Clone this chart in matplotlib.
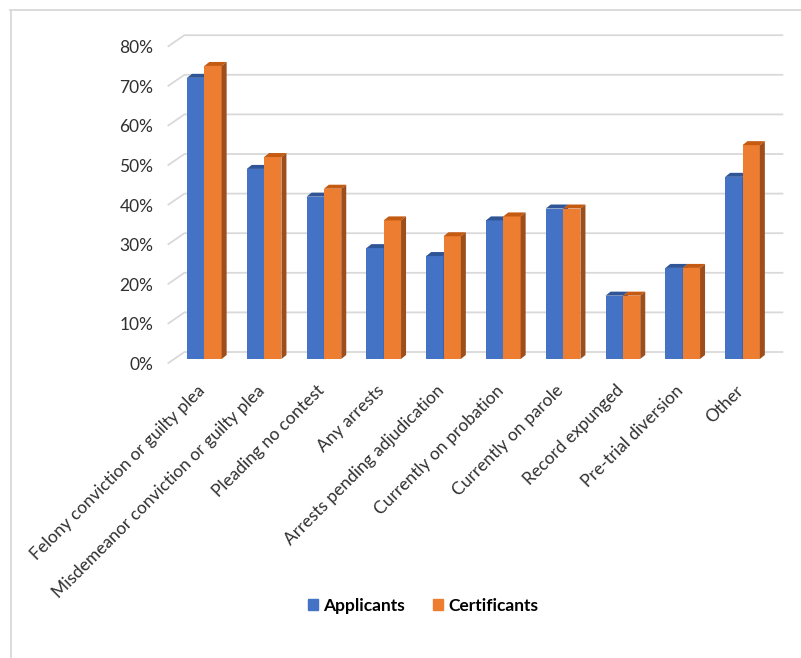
import matplotlib
matplotlib.use("Agg")
import matplotlib.pyplot as plt
import matplotlib.transforms as mtransforms
from matplotlib.patches import Polygon, Patch
from matplotlib.lines import Line2D

# --- data ---
categories = [
    "Felony conviction or guilty plea",
    "Misdemeanor conviction or guilty plea",
    "Pleading no contest",
    "Any arrests",
    "Arrests pending adjudication",
    "Currently on probation",
    "Currently on parole",
    "Record expunged",
    "Pre-trial diversion",
    "Other",
]
applicants = [0.71, 0.48, 0.41, 0.28, 0.26, 0.35, 0.38, 0.16, 0.23, 0.46]
certificants = [0.74, 0.51, 0.43, 0.35, 0.31, 0.36, 0.38, 0.16, 0.23, 0.54]
yticks = [0, 0.1, 0.2, 0.3, 0.4, 0.5, 0.6, 0.7, 0.8]

# --- colours (front, top, side) ---
BLUE = ("#4472C4", "#2F5597", "#2F5597")
ORANGE = ("#ED7D31", "#C55A11", "#9E4E1A")
GRID = "#d9d9d9"
TXT = "#303030"

plt.rcParams["font.family"] = ["Lato", "DejaVu Sans"]

W, H, DPI = 801, 658, 100
fig = plt.figure(figsize=(W / DPI, H / DPI), dpi=DPI)
# axes = front plane of the bars (pixel coords measured from top)
left_px, right_px, top_px, bot_px = 174.4, 772.4, 42.2, 359.0
ax = fig.add_axes([left_px / W, 1 - bot_px / H, (right_px - left_px) / W, (bot_px - top_px) / H])
ax.set_xlim(-0.5, 9.5)
ax.set_ylim(0, 0.8)
ax.axis("off")

# pixel -> data sizes
xpp = 10.0 / (right_px - left_px)
ypp = 0.8 / (bot_px - top_px)

def px_offset(dx, dy):
    # dx right, dy down in pixels
    return ax.transData + mtransforms.ScaledTranslation(dx / DPI, -dy / DPI, fig.dpi_scale_trans)

# --- gridlines: front floor edge -> back wall ---
fx, fy = -6 * xpp, -4 * ypp     # front edge
bx, by = 10 * xpp, 7 * ypp      # back wall
for v in yticks:
    ax.plot([-0.5 + fx, -0.5 + bx, 9.5 + bx], [v + fy, v + by, v + by],
            color=GRID, lw=1.3, clip_on=False, zorder=0)
    ax.text(-0.5, v, f"{int(round(v * 100))}%", transform=px_offset(-21, 6),
            ha="right", va="center", fontsize=12.5, color=TXT)

# --- 3D-looking bars ---
w = 0.29
depth_x = 5 * xpp
depth_y = 4 * ypp

def bar3d(x0, h, cols, z):
    ax.bar(x0, h, width=w, align="edge", color=cols[0], lw=0, zorder=z, clip_on=False)
    ax.add_patch(Polygon([(x0, h), (x0 + w, h), (x0 + w + depth_x, h + depth_y), (x0 + depth_x, h + depth_y)],
                         closed=True, facecolor=cols[1], lw=0, zorder=z, clip_on=False))
    ax.add_patch(Polygon([(x0 + w, 0), (x0 + w + depth_x, depth_y), (x0 + w + depth_x, h + depth_y), (x0 + w, h)],
                         closed=True, facecolor=cols[2], lw=0, zorder=z, clip_on=False))

for i in range(len(categories)):
    bar3d(i - w, applicants[i], BLUE, 2 + i * 2)
    bar3d(i, certificants[i], ORANGE, 3 + i * 2)

# --- category labels ---
for i, name in enumerate(categories):
    ax.text(i, 0, name, transform=px_offset(-2, 29), rotation=45, rotation_mode="anchor",
            ha="right", va="center", fontsize=12.5, color=TXT)

# --- legend ---
handles = [Patch(color=BLUE[0], label="Applicants"), Patch(color=ORANGE[0], label="Certificants")]
fig.legend(handles=handles, loc="center", bbox_to_anchor=(423 / W, 1 - 606 / H), ncol=2, frameon=False,
           handlelength=0.6, handleheight=0.6, handletextpad=0.3, columnspacing=1.6,
           prop={"weight": "bold", "size": 12.5})

# --- outer frame (only top and left edges visible) ---
fig.add_artist(Line2D([10 / W, 1], [1 - 9.5 / H, 1 - 9.5 / H], color=GRID, lw=1.3, transform=fig.transFigure))
fig.add_artist(Line2D([10.5 / W, 10.5 / W], [0, 1 - 9.5 / H], color=GRID, lw=1.3, transform=fig.transFigure))

fig.savefig("out.png", dpi=DPI)
